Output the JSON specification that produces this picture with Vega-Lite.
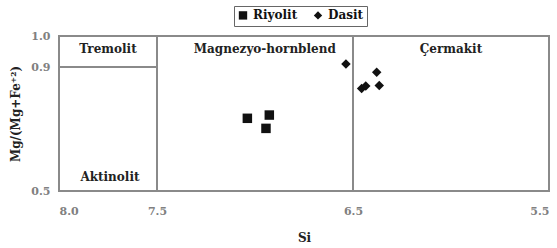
{
  "$schema": "https://vega.github.io/schema/vega-lite/v6.json",
  "width": 490,
  "height": 155,
  "autosize": {"type": "none"},
  "padding": {"left": 59, "top": 36, "right": 8, "bottom": 57},
  "background": "white",
  "config": {
    "view": {"stroke": "#8a8a8a", "strokeWidth": 2},
    "font": "DejaVu Serif",
    "axis": {"grid": false, "domain": false, "ticks": false, "labelFont": "DejaVu Serif", "labelFontWeight": "bold", "labelColor": "#808080", "labelFontSize": 11, "titleFont": "DejaVu Serif", "titleFontWeight": "bold", "titleColor": "#222222", "titleFontSize": 12}
  },
  "datasets": {
    "points": [
      {"Si": 7.039, "Mg": 0.7345, "Kaya": "Riyolit"},
      {"Si": 6.927, "Mg": 0.745, "Kaya": "Riyolit"},
      {"Si": 6.944, "Mg": 0.702, "Kaya": "Riyolit"},
      {"Si": 6.536, "Mg": 0.910, "Kaya": "Dasit"},
      {"Si": 6.379, "Mg": 0.883, "Kaya": "Dasit"},
      {"Si": 6.366, "Mg": 0.840, "Kaya": "Dasit"},
      {"Si": 6.456, "Mg": 0.831, "Kaya": "Dasit"},
      {"Si": 6.435, "Mg": 0.839, "Kaya": "Dasit"}
    ],
    "lines": [
      {"x": 7.5, "x2": 7.5, "y": 0.5, "y2": 1.0},
      {"x": 6.5, "x2": 6.5, "y": 0.5, "y2": 1.0},
      {"x": 8.0, "x2": 7.5, "y": 0.9, "y2": 0.9}
    ],
    "labels": [
      {"x": 7.75, "y": 0.958, "t": "Tremolit"},
      {"x": 6.95, "y": 0.958, "t": "Magnezyo-hornblend"},
      {"x": 6.0, "y": 0.958, "t": "Çermakit"},
      {"x": 7.74, "y": 0.545, "t": "Aktinolit"}
    ]
  },
  "layer": [
    {
      "data": {"name": "lines"},
      "mark": {"type": "rule", "color": "#8a8a8a", "strokeWidth": 2},
      "encoding": {
        "x": {"field": "x", "type": "quantitative", "scale": {"domain": [5.5, 8], "reverse": true, "nice": false, "zero": false},
          "axis": {"values": [8.0, 7.5, 6.5, 5.5], "format": ".1f", "title": "Si", "labelPadding": 14, "titlePadding": 16}},
        "x2": {"field": "x2"},
        "y": {"field": "y", "type": "quantitative", "scale": {"domain": [0.5, 1.0], "nice": false, "zero": false},
          "axis": {"values": [0.5, 0.9, 1.0], "format": ".1f", "title": "Mg/(Mg+Fe⁺²)", "labelPadding": 9, "titlePadding": 8}},
        "y2": {"field": "y2"}
      }
    },
    {
      "data": {"name": "labels"},
      "mark": {"type": "text", "font": "DejaVu Serif", "fontWeight": "bold", "fontSize": 12, "color": "#222222", "baseline": "middle", "align": "center"},
      "encoding": {
        "x": {"field": "x", "type": "quantitative"},
        "y": {"field": "y", "type": "quantitative"},
        "text": {"field": "t"}
      }
    },
    {
      "data": {"name": "points"},
      "mark": {"type": "point", "filled": true, "opacity": 1, "color": "#111111", "size": 90},
      "encoding": {
        "x": {"field": "Si", "type": "quantitative"},
        "y": {"field": "Mg", "type": "quantitative"},
        "shape": {"field": "Kaya", "type": "nominal",
          "scale": {"domain": ["Riyolit", "Dasit"], "range": ["square", "diamond"]},
          "legend": {"title": null, "orient": "none", "legendX": 175, "legendY": -30, "direction": "horizontal",
            "strokeColor": "#666666", "padding": 3, "labelFont": "DejaVu Serif", "labelFontWeight": "bold", "labelFontSize": 12, "labelColor": "#111111", "symbolFillColor": "#111111", "symbolStrokeColor": "#111111", "symbolSize": 70, "columnPadding": 12}}
      }
    }
  ]
}
